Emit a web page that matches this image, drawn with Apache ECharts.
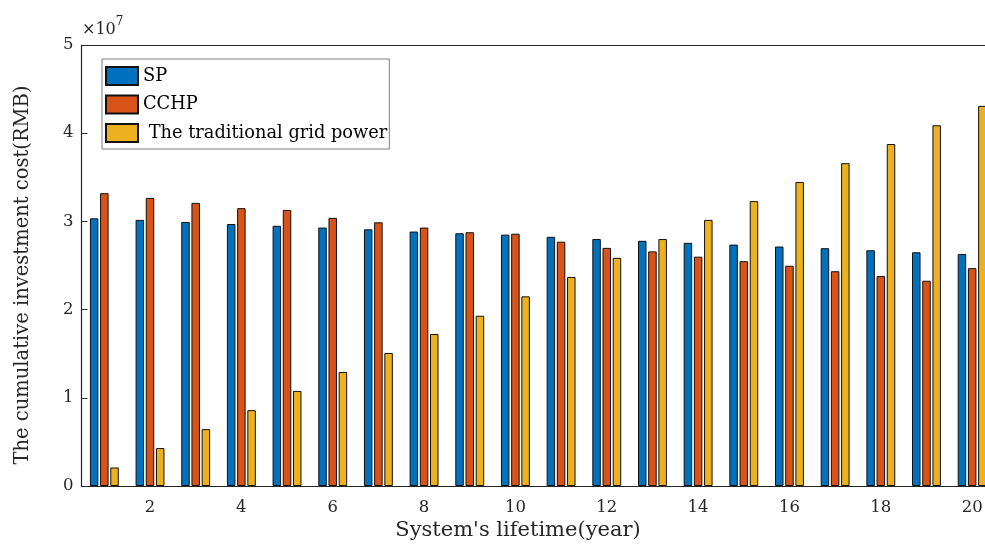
<!DOCTYPE html>
<html>
<head>
<meta charset="utf-8">
<script src="https://cdn.jsdelivr.net/npm/echarts@6/dist/echarts.min.js"></script>
<style>html,body{margin:0;padding:0;background:#fff;}#c{width:985px;height:544px;}</style>
</head>
<body>
<div id="c"></div>
<script>
// values in units of 1e7 RMB
const years = ['1','2','3','4','5','6','7','8','9','10','11','12','13','14','15','16','17','18','19','20'];
const sp = [3.035, 3.017, 2.994, 2.97, 2.95, 2.93, 2.91, 2.885, 2.865, 2.85, 2.825, 2.80, 2.78, 2.757, 2.737, 2.715, 2.696, 2.673, 2.65, 2.63];
const cchp = [3.32, 3.266, 3.21, 3.15, 3.13, 3.04, 2.99, 2.93, 2.877, 2.86, 2.77, 2.70, 2.66, 2.60, 2.549, 2.497, 2.435, 2.38, 2.327, 2.47];
const grid = [0.21, 0.43, 0.645, 0.86, 1.078, 1.293, 1.508, 1.723, 1.93, 2.15, 2.37, 2.587, 2.80, 3.017, 3.23, 3.447, 3.66, 3.877, 4.09, 4.31];
const seriesNames = ['SP', 'CCHP', 'The traditional grid power'];
const colors = ['#0072BD', '#D95319', '#EDB120'];
const yTicks = [0, 1, 2, 3, 4, 5];
const xTitle = "System's lifetime(year)";
const yTitle = 'The cumulative investment cost(RMB)';

const font = 'DejaVu Serif';
const ink = '#262626';
const chart = echarts.init(document.getElementById('c'));
const mk = (name, data, i) => ({
  name: name, type: 'bar', data: data, barWidth: 8.5, barGap: '20%',
  itemStyle: { color: colors[i], borderColor: '#111', borderWidth: 1 },
  animation: false
});
chart.setOption({
  animation: false,
  grid: { left: 81.5, width: 913.5, top: 45, bottom: 58, outerBoundsMode: 'none', containLabel: false },
  legend: {
    orient: 'vertical', left: 102, top: 59,
    padding: [7, 2, 6, 3],
    backgroundColor: '#fff', borderColor: '#7f7f7f', borderWidth: 1,
    icon: 'rect',
    itemWidth: 32, itemHeight: 18, itemGap: 8.5,
    textStyle: { fontFamily: font, fontSize: 17.8, color: '#000', lineHeight: 18 },
    data: seriesNames,
    formatter: function (n) { return n === seriesNames[2] ? ' ' + n : n; },
    selectedMode: false
  },
  xAxis: [{
    type: 'category', data: years, boundaryGap: true,
    axisLine: { lineStyle: { color: ink, width: 1.2 } },
    axisTick: { inside: true, alignWithLabel: true, length: 6, lineStyle: { color: ink },
      interval: function (i) { return i % 2 === 1; } },
    axisLabel: { fontFamily: font, fontSize: 16.5, color: ink, margin: 13,
      interval: function (i) { return i % 2 === 1; } }
  }, {
    type: 'category', data: years, position: 'top', boundaryGap: true,
    axisLine: { lineStyle: { color: ink, width: 1.2 } },
    axisTick: { inside: true, alignWithLabel: true, length: 6, lineStyle: { color: ink },
      interval: function (i) { return i % 2 === 1; } },
    axisLabel: { show: false }
  }],
  yAxis: {
    type: 'value', min: yTicks[0], max: yTicks[yTicks.length - 1], interval: 1,
    axisLine: { show: true, lineStyle: { color: ink, width: 1.2 } },
    axisTick: { show: true, inside: true, length: 6, lineStyle: { color: ink } },
    axisLabel: { fontFamily: font, fontSize: 16.5, color: ink, margin: 8 },
    splitLine: { show: false }
  },
  graphic: [{
    type: 'text', left: 82, top: 16,
    style: {
      text: '{a|×10}{b|7}',
      rich: {
        a: { fontFamily: font, fontSize: 16, fill: ink, verticalAlign: 'bottom' },
        b: { fontFamily: font, fontSize: 12, fill: ink, verticalAlign: 'top', padding: [0, 0, 10, 0] }
      }
    }
  }, {
    type: 'text', x: 518, y: 531,
    style: { text: xTitle, fontFamily: font, fontSize: 21, fill: ink, align: 'center', verticalAlign: 'middle' }
  }, {
    type: 'text', x: 23, y: 275, rotation: Math.PI / 2,
    style: { text: yTitle, fontFamily: font, fontSize: 19.5, fill: ink, align: 'center', verticalAlign: 'middle' }
  }],
  series: [mk(seriesNames[0], sp, 0), mk(seriesNames[1], cchp, 1), mk(seriesNames[2], grid, 2)]
});
</script>
</body>
</html>
